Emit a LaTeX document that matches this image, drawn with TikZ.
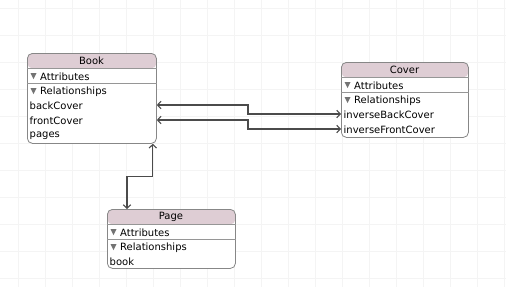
\documentclass[tikz,border=0pt]{standalone}
\usepackage{fontspec}
\setmainfont{DejaVu Sans}
\usetikzlibrary{arrows.meta}
\definecolor{hdrpink}{RGB}{222,205,212}
\definecolor{bordergray}{RGB}{135,135,135}
\definecolor{sepgray}{RGB}{150,150,150}
\definecolor{trigray}{RGB}{115,115,115}
\definecolor{relgray}{RGB}{75,75,75}
\definecolor{gridgray}{RGB}{244,244,244}
\tikzset{
  ent/.style={draw=bordergray, line width=0.8pt, rounded corners=5pt, fill=white,
    inner sep=0pt, anchor=north west,
    path picture={\fill[hdrpink] (path picture bounding box.north west) rectangle ([yshift=-15pt]path picture bounding box.north east);}},
  sepline/.style={draw=sepgray, line width=0.7pt},
  title/.style={font=\fontsize{10}{11}\selectfont, inner sep=0pt},
  rowtxt/.style={font=\fontsize{10}{11}\selectfont, inner sep=0pt, anchor=west},
  tri/.style={fill=trigray},
  rel/.style={draw=relgray, line width=1.1pt, {Straight Barb[length=3.5pt,width=7.5pt]}-{Straight Barb[length=3.5pt,width=7.5pt]}},
}
\begin{document}
\begin{tikzpicture}[x=1pt,y=-1pt]
\useasboundingbox (0,0) rectangle (506,287);
\fill[white] (0,0) rectangle (506,287);
% faint grid
\foreach \gx in {18,45,72,99,126,153,180,207,234,261,288,315,342,369,396,423,450,477,504}
  \draw[gridgray, line width=0.6pt] (\gx,0) -- (\gx,287);
\foreach \gy in {8,35,62,89,116,143,170,197,224,251,278}
  \draw[gridgray, line width=0.6pt] (0,\gy) -- (506,\gy);

% ---------- Book ----------
\node[ent, minimum width=129pt, minimum height=90pt] (book) at (27,53) {};
\draw[sepline] ([yshift=-15pt]book.north west) -- ([yshift=-15pt]book.north east);
\draw[sepline] ([yshift=-30pt]book.north west) -- ([yshift=-30pt]book.north east);
\node[title] (bookT) at (91.5,61) {Book};
\fill[tri] (30.5,73) -- (36.5,73) -- (33.5,79) -- cycle;
\node[rowtxt] (bookA) at (40,76.5) {Attributes};
\fill[tri] (30.5,88) -- (36.5,88) -- (33.5,94) -- cycle;
\node[rowtxt] (bookR) at (40,91.5) {Relationships};
\node[rowtxt] (bk) at (29.5,105.5) {backCover};
\node[rowtxt] (fc) at (29.5,120.5) {frontCover};
\node[rowtxt] (pg) at (29.5,135.5) {pages};

% ---------- Cover ----------
\node[ent, minimum width=127pt, minimum height=75pt] (cover) at (341,62) {};
\draw[sepline] ([yshift=-15pt]cover.north west) -- ([yshift=-15pt]cover.north east);
\draw[sepline] ([yshift=-30pt]cover.north west) -- ([yshift=-30pt]cover.north east);
\node[title] (coverT) at (404.5,70) {Cover};
\fill[tri] (344.5,82) -- (350.5,82) -- (347.5,88) -- cycle;
\node[rowtxt] (coverA) at (354,85.5) {Attributes};
\fill[tri] (344.5,97) -- (350.5,97) -- (347.5,103) -- cycle;
\node[rowtxt] (coverR) at (354,100.5) {Relationships};
\node[rowtxt] (ibc) at (343.5,114.5) {inverseBackCover};
\node[rowtxt] (ifc) at (343.5,129.5) {inverseFrontCover};

% ---------- Page ----------
\node[ent, minimum width=128pt, minimum height=59pt] (page) at (107,209) {};
\draw[sepline] ([yshift=-15pt]page.north west) -- ([yshift=-15pt]page.north east);
\draw[sepline] ([yshift=-30pt]page.north west) -- ([yshift=-30pt]page.north east);
\node[title] (pageT) at (171,217) {Page};
\fill[tri] (110.5,229) -- (116.5,229) -- (113.5,235) -- cycle;
\node[rowtxt] (pageA) at (120,232.5) {Attributes};
\fill[tri] (110.5,244) -- (116.5,244) -- (113.5,250) -- cycle;
\node[rowtxt] (pageR) at (120,247.5) {Relationships};
\node[rowtxt] (pb) at (109.5,261.5) {book};

% ---------- Relationships ----------
\draw[rel] (book.east |- 0,105) -- (248,105) |- (cover.west |- 0,114);
\draw[rel] (book.east |- 0,120) -- (248,120) |- (cover.west |- 0,129);
\draw[rel] ([xshift=-4pt]book.south east) -- ++(0,33) -| ([xshift=20pt]page.north west);
\end{tikzpicture}
\end{document}
